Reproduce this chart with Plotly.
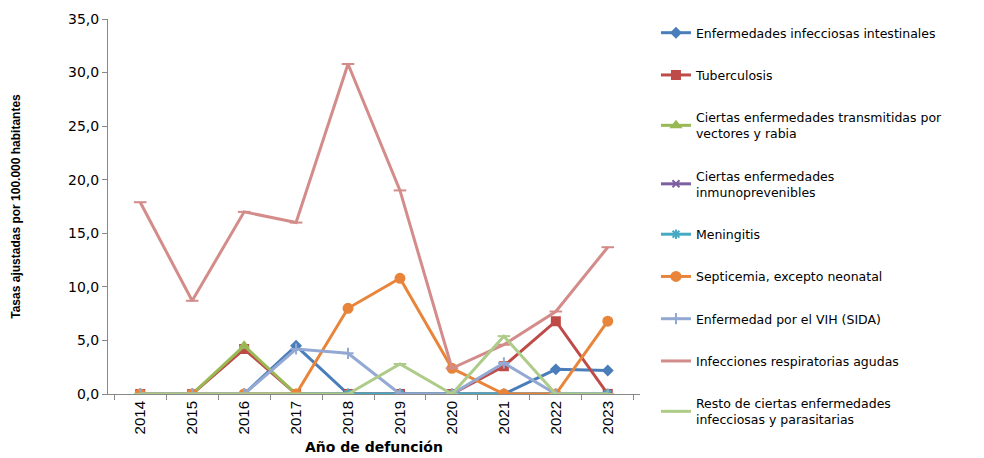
import plotly.graph_objects as go

years = ["2014", "2015", "2016", "2017", "2018", "2019", "2020", "2021", "2022", "2023"]

intestinales = [0.0, 0.0, 0.0, 4.5, 0.0, 0.0, 0.0, 0.0, 2.3, 2.2]
tuberculosis = [0.0, 0.0, 4.2, 0.0, 0.0, 0.0, 0.0, 2.6, 6.8, 0.0]
vectores = [0.0, 0.0, 4.5, 0.0, 0.0, 0.0, 0.0, 0.0, 0.0, 0.0]
inmunoprevenibles = [0.0, 0.0, 0.0, 0.0, 0.0, 0.0, 0.0, 0.0, 0.0, 0.0]
meningitis = [0.0, 0.0, 0.0, 0.0, 0.0, 0.0, 0.0, 0.0, 0.0, 0.0]
septicemia = [0.0, 0.0, 0.0, 0.0, 8.0, 10.8, 2.4, 0.0, 0.0, 6.8]
vih = [0.0, 0.0, 0.0, 4.2, 3.8, 0.0, 0.0, 2.9, 0.0, 0.0]
respiratorias = [17.9, 8.7, 17.0, 16.0, 30.8, 19.0, 2.4, 4.6, 7.7, 13.7]
resto = [0.0, 0.0, 0.0, 0.0, 0.0, 2.8, 0.0, 5.4, 0.0, 0.0]

series = [
    ("Enfermedades infecciosas intestinales", intestinales, "#4A7EBB", "diamond", 7),
    ("Tuberculosis", tuberculosis, "#BE4B48", "square", 8),
    ("Ciertas enfermedades transmitidas por<br>vectores y rabia", vectores, "#98B954", "triangle-up", 8),
    ("Ciertas enfermedades<br>inmunoprevenibles", inmunoprevenibles, "#7D60A0", "x-thin-open", 7),
    ("Meningitis", meningitis, "#46AAC5", "asterisk-open", 8),
    ("Septicemia, excepto neonatal", septicemia, "#E8853A", "circle", 9),
    ("Enfermedad por el VIH (SIDA)", vih, "#93A9D3", "cross-thin-open", 8),
    ("Infecciones respiratorias agudas", respiratorias, "#D38C8A", "line-ew-open", 9),
    ("Resto de ciertas enfermedades<br>infecciosas y parasitarias", resto, "#AECB8A", "line-ew-open", 9),
]

WIDE = "DejaVu Sans, Verdana, sans-serif"
NARROW = "Liberation Sans Narrow, Arial Narrow, Liberation Sans, sans-serif"

fig = go.Figure()
for i, (name, vals, color, symbol, size) in enumerate(series):
    fig.add_trace(
        go.Scatter(
            x=years, y=vals,
            mode="lines+markers",
            name=name,
            legendgroup=f"g{i}",
            line=dict(color=color, width=3),
            marker=dict(symbol=symbol, size=size, color=color,
                        line=dict(color=color, width=2)),
        )
    )

# page has an 8px body margin, so offsets are shifted by 8
fig.update_layout(
    width=984,
    height=458,
    paper_bgcolor="white",
    plot_bgcolor="white",
    margin=dict(l=100, r=352, t=11, b=72),
    separators=",.",
    font=dict(family=WIDE, color="#000000"),
    showlegend=True,
    legend=dict(
        xref="container", yref="container",
        x=0.6585, y=0.978,
        xanchor="left", yanchor="top",
        font=dict(family=WIDE, size=12.5, color="#000000"),
        tracegroupgap=23,
        itemwidth=30,
        maxheight=1,
        bgcolor="rgba(0,0,0,0)",
    ),
)

fig.update_xaxes(
    type="category",
    tickangle=-90,
    tickson="boundaries",
    ticks="outside",
    ticklen=5,
    tickcolor="#888888",
    showline=True,
    linecolor="#888888",
    linewidth=1,
    showgrid=False,
    automargin=False,
    tickfont=dict(family=NARROW, size=15),
    title=dict(text="<b>Año de defunción</b>", font=dict(family=WIDE, size=14), standoff=8),
)

fig.update_yaxes(
    range=[0, 35],
    dtick=5,
    tickformat=".1f",
    ticks="outside",
    ticklen=5,
    tickcolor="#888888",
    showline=True,
    linecolor="#888888",
    linewidth=1,
    showgrid=False,
    zeroline=False,
    automargin=False,
    tickfont=dict(family=WIDE, size=14),
    title=dict(text="<b>Tasas ajustadas por 100.000 habitantes</b>",
               font=dict(family=NARROW, size=12),
               standoff=44),
)

fig.write_html("out.html")
